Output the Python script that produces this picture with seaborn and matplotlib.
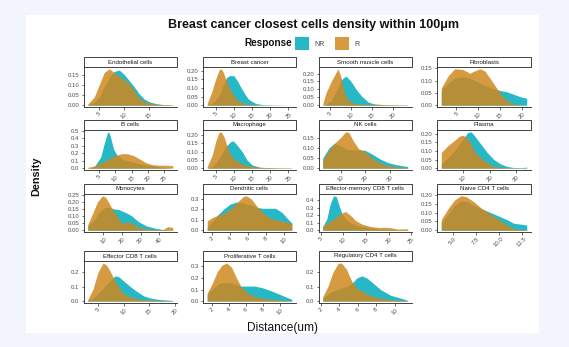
import matplotlib
matplotlib.use("Agg")
import matplotlib.pyplot as plt
from matplotlib.patches import Rectangle, Patch
import pandas as pd
import seaborn as sns

# ---- density curves (distance in um, density) per cell type ----
CELL_ORDER = [
    "Endothelial cells", "Breast cancer", "Smooth muscle cells", "Fibroblasts",
    "B cells", "Macrophage", "NK cells", "Plasma",
    "Monocytes", "Dendritic cells", "Effector-memory CD8 T cells", "Naive CD4 T cells",
    "Effector CD8 T cells", "Proliferative T cells", "Regulatory CD4 T cells",
]

ENDO_X = [2.7, 4, 5, 6, 7, 8, 9, 10, 11, 12, 13, 14, 15, 16, 17, 18, 19.7]
ENDO_NR = [0.002, 0.015, 0.04, 0.09, 0.135, 0.165, 0.172, 0.15, 0.12, 0.09, 0.055, 0.03, 0.017, 0.01, 0.005, 0.003, 0.001]
ENDO_R = [0.005, 0.04, 0.10, 0.16, 0.178, 0.16, 0.14, 0.125, 0.105, 0.07, 0.035, 0.018, 0.01, 0.006, 0.004, 0.003, 0.002]

BREAST_X = [2.7, 4, 5, 6, 6.5, 7, 8, 9, 10, 11, 12, 13, 14, 16, 18, 21, 25.9]
BREAST_NR = [0.002, 0.01, 0.03, 0.06, 0.08, 0.11, 0.16, 0.172, 0.17, 0.14, 0.10, 0.065, 0.035, 0.01, 0.003, 0.001, 0.0]
BREAST_R = [0.01, 0.08, 0.15, 0.205, 0.21, 0.195, 0.14, 0.09, 0.055, 0.03, 0.015, 0.008, 0.005, 0.002, 0.001, 0.001, 0.0]

SMOOTH_X = [3.4, 4.2, 5.4, 6.2, 7.0, 7.8, 8.5, 9.0, 10.1, 11.3, 12.5, 14.1, 15.6, 16.4, 18.8, 23.5]
SMOOTH_NR = [0.0, 0.005, 0.03, 0.07, 0.11, 0.16, 0.178, 0.182, 0.15, 0.10, 0.06, 0.02, 0.008, 0.005, 0.003, 0.002]
SMOOTH_R = [0.01, 0.08, 0.15, 0.19, 0.23, 0.17, 0.08, 0.05, 0.02, 0.01, 0.007, 0.005, 0.006, 0.006, 0.003, 0.001]

FIBRO_X = [1.5, 3.1, 4.6, 6.5, 8.1, 9.2, 10.4, 11.5, 13.1, 15.0, 16.5, 18.1, 19.6, 21.2]
FIBRO_NR = [0.06, 0.09, 0.11, 0.115, 0.11, 0.10, 0.09, 0.08, 0.07, 0.06, 0.055, 0.045, 0.035, 0.028]
FIBRO_R = [0.07, 0.12, 0.148, 0.145, 0.13, 0.14, 0.148, 0.14, 0.10, 0.05, 0.02, 0.005, 0.001, 0.0]

BCELL_X = [1.5, 3.5, 5.5, 6.5, 7.5, 8.0, 8.5, 9.5, 10.6, 12.1, 13.6, 15.6, 17.6, 19.6, 21.7, 23.7, 25.7, 27.7]
BCELL_NR = [0.0, 0.02, 0.15, 0.32, 0.47, 0.49, 0.42, 0.25, 0.17, 0.12, 0.10, 0.08, 0.06, 0.04, 0.035, 0.015, 0.005, 0.0]
BCELL_R = [0.01, 0.03, 0.07, 0.09, 0.12, 0.13, 0.14, 0.16, 0.18, 0.195, 0.195, 0.17, 0.12, 0.07, 0.045, 0.04, 0.04, 0.035]

MACRO_X = [2.7, 4.1, 5, 5.9, 6.5, 7.3, 8.2, 9.1, 9.8, 10.5, 12.3, 13.6, 15, 17.3, 21.8, 25.9]
MACRO_NR = [0.0, 0.01, 0.03, 0.06, 0.08, 0.11, 0.14, 0.16, 0.165, 0.15, 0.10, 0.05, 0.02, 0.005, 0.002, 0.001]
MACRO_R = [0.01, 0.08, 0.16, 0.215, 0.22, 0.19, 0.13, 0.08, 0.06, 0.05, 0.025, 0.015, 0.01, 0.005, 0.003, 0.002]

NK_X = [2.7, 5.3, 7.3, 10, 12, 13.3, 15.3, 17.3, 20, 22.7, 26, 29.3, 32.7, 37.3]
NK_NR = [0.05, 0.10, 0.12, 0.11, 0.095, 0.09, 0.09, 0.09, 0.087, 0.07, 0.045, 0.027, 0.017, 0.008]
NK_R = [0.04, 0.09, 0.12, 0.15, 0.178, 0.175, 0.13, 0.095, 0.08, 0.05, 0.025, 0.012, 0.006, 0.003]

PLASMA_X = [1.6, 4.1, 6.6, 8.5, 10, 11.6, 12.9, 14.1, 16.6, 19.1, 21.6, 24.1, 26.6, 29.1, 31.6, 34.1]
PLASMA_NR = [0.02, 0.06, 0.10, 0.14, 0.17, 0.205, 0.21, 0.19, 0.14, 0.09, 0.05, 0.025, 0.01, 0.004, 0.003, 0.006]
PLASMA_R = [0.09, 0.13, 0.16, 0.185, 0.19, 0.17, 0.14, 0.10, 0.06, 0.03, 0.01, 0.005, 0.003, 0.002, 0.001, 0.0]

MONO_X = [1.5, 4.2, 6.8, 9.5, 11.2, 13, 15.6, 18.3, 20, 22.7, 25.3, 28.9, 33.3, 37.7, 42.1, 44.7, 47.4]
MONO_NR = [0.03, 0.06, 0.11, 0.15, 0.16, 0.16, 0.15, 0.145, 0.135, 0.12, 0.10, 0.06, 0.03, 0.015, 0.005, 0.003, 0.002]
MONO_R = [0.04, 0.12, 0.2, 0.242, 0.23, 0.19, 0.13, 0.08, 0.045, 0.06, 0.05, 0.02, 0.01, 0.005, 0.005, 0.025, 0.02]

DENDRITIC_X = [1.45, 2, 2.55, 3.27, 4, 4.73, 5.45, 5.8, 6.36, 6.9, 7.64, 8.36, 9.1, 9.8, 10.55, 10.9]
DENDRITIC_NR = [0.03, 0.08, 0.14, 0.20, 0.25, 0.27, 0.26, 0.25, 0.24, 0.22, 0.21, 0.21, 0.21, 0.17, 0.10, 0.07]
DENDRITIC_R = [0.09, 0.12, 0.14, 0.16, 0.20, 0.26, 0.32, 0.33, 0.30, 0.24, 0.17, 0.12, 0.10, 0.09, 0.07, 0.07]

EMCD8_X = [5.45, 6.34, 7.09, 7.84, 8.43, 8.96, 9.7, 10.45, 11.57, 12.69, 14.18, 16.04, 17.9, 19.03, 20.5, 22, 24.25]
EMCD8_NR = [0.05, 0.15, 0.35, 0.46, 0.45, 0.35, 0.22, 0.15, 0.10, 0.07, 0.05, 0.03, 0.015, 0.01, 0.01, 0.008, 0.005]
EMCD8_R = [0.05, 0.09, 0.12, 0.15, 0.18, 0.20, 0.23, 0.25, 0.20, 0.13, 0.08, 0.05, 0.035, 0.04, 0.035, 0.015, 0.02]

NAIVE_X = [3.75, 4.46, 5.18, 5.89, 6.43, 7.32, 8.21, 9.11, 10, 10.89, 11.6, 12.32, 13.04]
NAIVE_NR = [0.04, 0.09, 0.14, 0.165, 0.163, 0.14, 0.12, 0.10, 0.08, 0.06, 0.04, 0.035, 0.03]
NAIVE_R = [0.06, 0.12, 0.17, 0.195, 0.19, 0.16, 0.12, 0.09, 0.06, 0.03, 0.01, 0.005, 0.003]

EFFCD8_X = [3, 4, 5, 6, 6.67, 7.33, 8.33, 9, 10, 11.33, 12.67, 14, 15.33, 17.33, 19.6]
EFFCD8_NR = [0.005, 0.02, 0.05, 0.09, 0.115, 0.14, 0.175, 0.17, 0.14, 0.10, 0.065, 0.035, 0.02, 0.01, 0.005]
EFFCD8_R = [0.01, 0.08, 0.2, 0.265, 0.25, 0.21, 0.14, 0.10, 0.05, 0.03, 0.015, 0.01, 0.007, 0.004, 0.002]

PROLIF_X = [1.42, 2, 2.58, 3.15, 3.73, 4.31, 4.88, 5.46, 6.23, 7, 7.96, 9.12, 10.27, 11.42]
PROLIF_NR = [0.06, 0.10, 0.14, 0.16, 0.16, 0.155, 0.14, 0.13, 0.13, 0.13, 0.115, 0.085, 0.05, 0.015]
PROLIF_R = [0.07, 0.15, 0.25, 0.31, 0.33, 0.29, 0.2, 0.12, 0.07, 0.04, 0.025, 0.015, 0.008, 0.002]

TREG_X = [2.19, 2.74, 3.3, 3.85, 4.22, 4.78, 5.33, 5.89, 6.44, 7, 7.56, 8.48, 9.59, 10.7, 11.44]
TREG_NR = [0.02, 0.05, 0.07, 0.08, 0.09, 0.10, 0.12, 0.16, 0.175, 0.16, 0.13, 0.08, 0.04, 0.02, 0.005]
TREG_R = [0.03, 0.1, 0.2, 0.26, 0.265, 0.22, 0.14, 0.09, 0.07, 0.05, 0.035, 0.02, 0.01, 0.005, 0.002]

# axis ticks per panel
X_TICKS = [
    [5, 10, 15], [5, 10, 15, 20, 25], [5, 10, 15, 20], [5, 10, 15, 20],
    [5, 10, 15, 20, 25], [5, 10, 15, 20, 25], [10, 20, 30], [10, 20, 30],
    [10, 20, 30, 40], [2, 4, 6, 8, 10], [5, 10, 15, 20, 25], [5.0, 7.5, 10.0, 12.5],
    [5, 10, 15, 20], [2, 4, 6, 8, 10], [2, 4, 6, 8, 10],
]
Y_TICKS = [
    [0, 0.05, 0.10, 0.15], [0, 0.05, 0.10, 0.15, 0.20], [0, 0.05, 0.10, 0.15, 0.20], [0, 0.05, 0.10, 0.15],
    [0, 0.1, 0.2, 0.3, 0.4, 0.5], [0, 0.05, 0.10, 0.15, 0.20], [0, 0.05, 0.10, 0.15], [0, 0.05, 0.10, 0.15, 0.20],
    [0, 0.05, 0.10, 0.15, 0.20, 0.25], [0, 0.1, 0.2, 0.3], [0, 0.1, 0.2, 0.3, 0.4], [0, 0.05, 0.10, 0.15, 0.20],
    [0, 0.1, 0.2], [0, 0.1, 0.2, 0.3], [0, 0.1, 0.2],
]

CURVES = [
    (ENDO_X, ENDO_NR, ENDO_R), (BREAST_X, BREAST_NR, BREAST_R),
    (SMOOTH_X, SMOOTH_NR, SMOOTH_R), (FIBRO_X, FIBRO_NR, FIBRO_R),
    (BCELL_X, BCELL_NR, BCELL_R), (MACRO_X, MACRO_NR, MACRO_R),
    (NK_X, NK_NR, NK_R), (PLASMA_X, PLASMA_NR, PLASMA_R),
    (MONO_X, MONO_NR, MONO_R), (DENDRITIC_X, DENDRITIC_NR, DENDRITIC_R),
    (EMCD8_X, EMCD8_NR, EMCD8_R), (NAIVE_X, NAIVE_NR, NAIVE_R),
    (EFFCD8_X, EFFCD8_NR, EFFCD8_R), (PROLIF_X, PROLIF_NR, PROLIF_R),
    (TREG_X, TREG_NR, TREG_R),
]

records = []
for name, (xs, nr, r) in zip(CELL_ORDER, CURVES):
    for resp, ys in (("NR", nr), ("R", r)):
        for x, y in zip(xs, ys):
            records.append({"cell": name, "Response": resp, "distance": x, "density": y})
df = pd.DataFrame(records)

sns.set_theme(style="ticks")
plt.rcParams["font.family"] = ["Liberation Sans", "DejaVu Sans"]

PALETTE = {"NR": "#00ACBE", "R": "#CF881E"}
ALPHA = 0.85

g = sns.FacetGrid(df, col="cell", col_wrap=4, col_order=CELL_ORDER,
                  hue="Response", hue_order=["NR", "R"], palette=PALETTE,
                  sharex=False, sharey=False, height=1.0, aspect=1.4)
g.map(plt.fill_between, "distance", "density", alpha=ALPHA, linewidth=0)
g.set_titles("")
g.set_axis_labels("", "")

fig = g.figure
W, H = 569, 347
fig.set_size_inches(W / 100, H / 100)
fig.patch.set_facecolor("#F2F6FC")
fig.patches.append(Rectangle((26 / W, 1 - 333 / H), (539 - 26) / W, (333 - 15) / H,
                             transform=fig.transFigure, facecolor="white",
                             edgecolor="none", zorder=-10))

# panel layout in pixels
COLS = [(83.5, 177), (203, 296), (318.5, 412), (437, 531)]
ROWS = [(67, 107), (130, 170), (194, 232), (261, 303)]
STRIP_PX = 10

for i, ax in enumerate(g.axes.flat):
    r, c = divmod(i, 4)
    x0, x1 = COLS[c]
    y0, y1 = ROWS[r]
    ax.set_position([x0 / W, 1 - y1 / H, (x1 - x0) / W, (y1 - y0) / H])
    ax.set_facecolor("white")

    xs, nr, rr = CURVES[i]
    span = max(xs) - min(xs)
    ax.set_xlim(min(xs) - 0.05 * span, max(xs) + 0.05 * span)
    top = max(max(nr), max(rr))
    ax.set_ylim(-0.05 * top, top * 1.05)

    yt = Y_TICKS[i]
    fmt = "%.2f" if abs(yt[1] - 0.05) < 1e-9 else "%.1f"
    ax.set_yticks(yt)
    ax.set_yticklabels([fmt % v for v in yt])
    xt = X_TICKS[i]
    ax.set_xticks(xt)
    ax.set_xticklabels([("%g" % v) if i != 11 else ("%.1f" % v) for v in xt],
                       rotation=45, ha="center", va="top")

    for s in ("left", "bottom"):
        ax.spines[s].set_color("#222222")
        ax.spines[s].set_linewidth(0.6)
    ax.tick_params(axis="both", length=1.8, width=0.5, color="#333333",
                   labelsize=4.3, labelcolor="#4D4D4D", pad=1.2)

    # facet strip
    hfrac = STRIP_PX / (y1 - y0)
    ax.add_patch(Rectangle((0, 1), 1, hfrac, transform=ax.transAxes, clip_on=False,
                           facecolor="white", edgecolor="#222222", linewidth=0.6))
    ax.text(0.5, 1 + hfrac / 2, CELL_ORDER[i], transform=ax.transAxes,
            ha="center", va="center", fontsize=4.4, color="#1A1A1A", clip_on=False)

fig.text(313 / W, 1 - 25 / H, "Breast cancer closest cells density within 100\u03bcm",
         ha="center", va="center", fontsize=9.0, fontweight="bold", color="#111111")
fig.text(292 / W, 1 - 43.5 / H, "Response", ha="right", va="center",
         fontsize=7.2, fontweight="bold", color="#111111")
handles = [Patch(facecolor=PALETTE[k], alpha=ALPHA, edgecolor="none") for k in ("NR", "R")]
fig.legend(handles, ["NR", "R"], loc="center left", bbox_to_anchor=(295 / W, 1 - 43.5 / H),
           ncol=2, frameon=False, fontsize=5, handlelength=2.0, handleheight=2.4,
           handletextpad=0.8, columnspacing=1.5, borderpad=0, borderaxespad=0,
           labelcolor="#444444")

fig.text(36 / W, 1 - 176 / H, "Density", rotation=90, ha="center", va="center",
         fontsize=7.8, fontweight="bold", color="#111111")
fig.text(283 / W, 1 - 328 / H, "Distance(um)", ha="center", va="center",
         fontsize=8.6, color="#111111")

fig.savefig("out.png", dpi=100, facecolor=fig.get_facecolor())
